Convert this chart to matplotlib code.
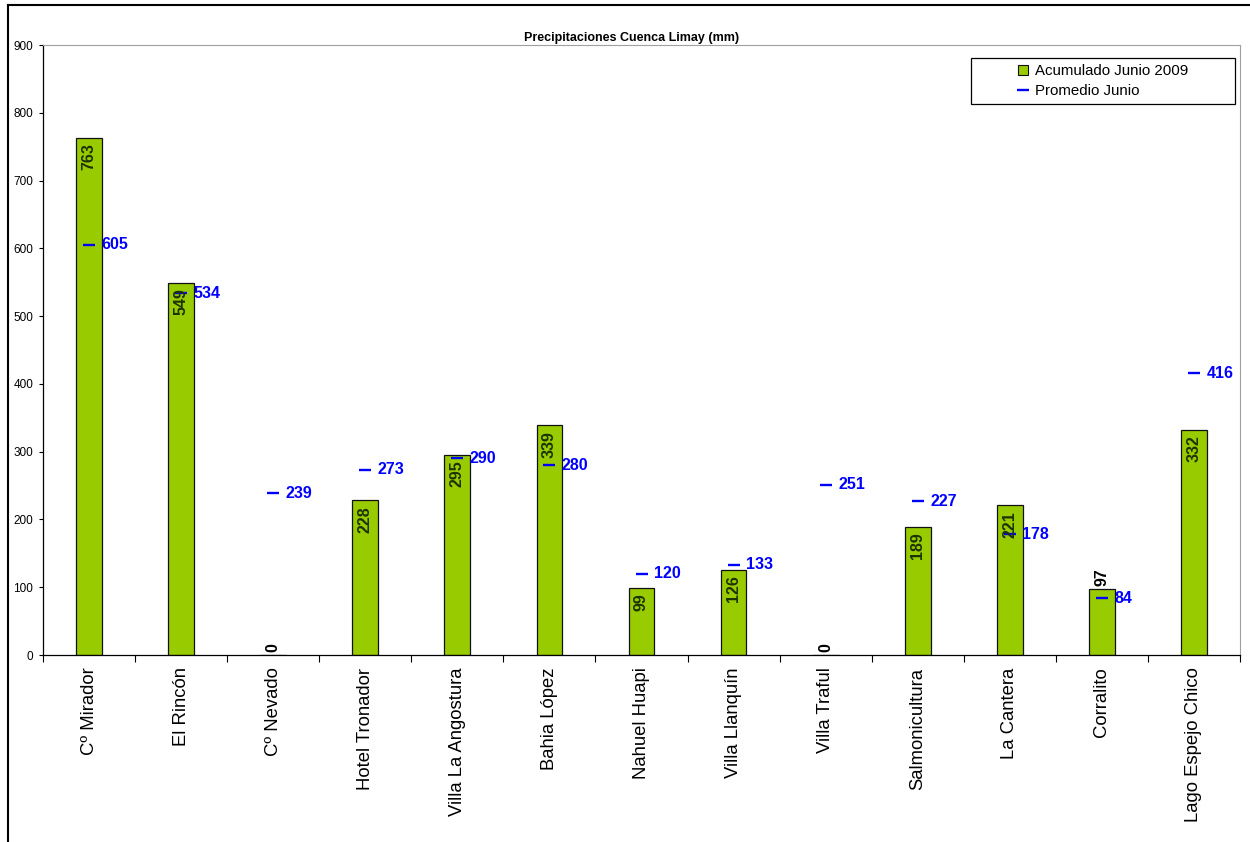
import matplotlib
matplotlib.use("Agg")
import matplotlib.pyplot as plt
from matplotlib.lines import Line2D
from matplotlib.patches import Rectangle
import numpy as np

plt.rcParams['font.family'] = ['Liberation Sans', 'DejaVu Sans']

categories = ['Cº Mirador', 'El Rincón', 'Cº Nevado', 'Hotel Tronador',
              'Villa La Angostura', 'Bahia López', 'Nahuel Huapi',
              'Villa Llanquín', 'Villa Traful', 'Salmonicultura',
              'La Cantera', 'Corralito', 'Lago Espejo Chico']
acumulado = [763, 549, 0, 228, 295, 339, 99, 126, 0, 189, 221, 97, 332]
promedio = [605, 534, 239, 273, 290, 280, 120, 133, 251, 227, 178, 84, 416]
yticks = list(range(0, 1000, 100))

W, H = 1250, 842
fig = plt.figure(figsize=(W / 100, H / 100), dpi=100)

# figure border (top and left visible)
fig.add_artist(Line2D([8 / W, 1.0], [1 - 5 / H, 1 - 5 / H], transform=fig.transFigure,
                      color='black', lw=1.5))
fig.add_artist(Line2D([8 / W, 8 / W], [1 - 5 / H, 0], transform=fig.transFigure,
                      color='black', lw=1.5))

ax = fig.add_axes([43 / W, 1 - 655 / H, (1240 - 43) / W, (655 - 45) / H])
x = np.arange(len(categories))
bars = ax.bar(x, acumulado, width=0.28, color='#99CC00', edgecolor='#111111', linewidth=0.9, zorder=2)
ax.plot(x, promedio, linestyle='none', marker='_', markersize=9, markeredgewidth=1.7,
        color='#0000FF', zorder=3)

ax.set_xlim(-0.5, len(categories) - 0.5)
ax.set_ylim(0, 900)
ax.set_yticks(yticks)
ax.set_yticklabels([str(v) for v in yticks], fontsize=8.5)
ax.tick_params(axis='y', direction='out', length=3, width=0.8, pad=4)

ax.set_xticks(x)
ax.set_xticklabels(categories, rotation=90, fontsize=13.3, va='top')
ax.tick_params(axis='x', which='major', length=0, pad=9)
ax.set_xticks(np.arange(-0.5, len(categories), 1), minor=True)
ax.tick_params(axis='x', which='minor', direction='out', length=5, width=0.8)

for s in ['top', 'right']:
    ax.spines[s].set_color('#A0A0A0')
for s in ['left', 'bottom']:
    ax.spines[s].set_color('black')
    ax.spines[s].set_linewidth(0.9)

# bar value labels
for xi, v in zip(x, acumulado):
    if v > 98:
        ax.annotate(str(v), (xi, v), xytext=(0, -4), textcoords='offset points',
                    rotation=90, ha='center', va='top', fontsize=11.5, fontweight='bold',
                    color='#1e3300', zorder=4)
    else:
        ax.annotate(str(v), (xi, v), xytext=(0, 2), textcoords='offset points',
                    rotation=90, ha='center', va='bottom', fontsize=11.5, fontweight='bold',
                    color='black', zorder=4)

# promedio labels
for xi, v in zip(x, promedio):
    ax.annotate(str(v), (xi, v), xytext=(9, 0), textcoords='offset points',
                ha='left', va='center', fontsize=11.5, fontweight='bold', color='#0000FF', zorder=4)

fig.text(632 / W, 1 - 38 / H, 'Precipitaciones Cuenca Limay (mm)', ha='center', va='center',
         fontsize=9, fontweight='bold')

# legend
fig.add_artist(Rectangle((971 / W, 1 - 104 / H), (1235 - 971) / W, (104 - 58) / H,
                         transform=fig.transFigure, facecolor='white', edgecolor='black',
                         linewidth=0.9, zorder=5))
handles = [Line2D([], [], linestyle='none', marker='s', markersize=7, markerfacecolor='#99CC00',
                  markeredgecolor='#111111', markeredgewidth=0.8),
           Line2D([], [], linestyle='none', marker='_', markersize=9, markeredgewidth=1.7,
                  color='#0000FF')]
leg = fig.legend(handles, ['Acumulado Junio 2009', 'Promedio Junio'],
                 loc='center', bbox_to_anchor=(1103 / W, 1 - 81 / H), frameon=False,
                 fontsize=10.8, handlelength=0.8, handletextpad=0.4, labelspacing=0.4,
                 borderpad=0, alignment='left')
leg.set_zorder(6)

fig.savefig('out.png', dpi=100)
